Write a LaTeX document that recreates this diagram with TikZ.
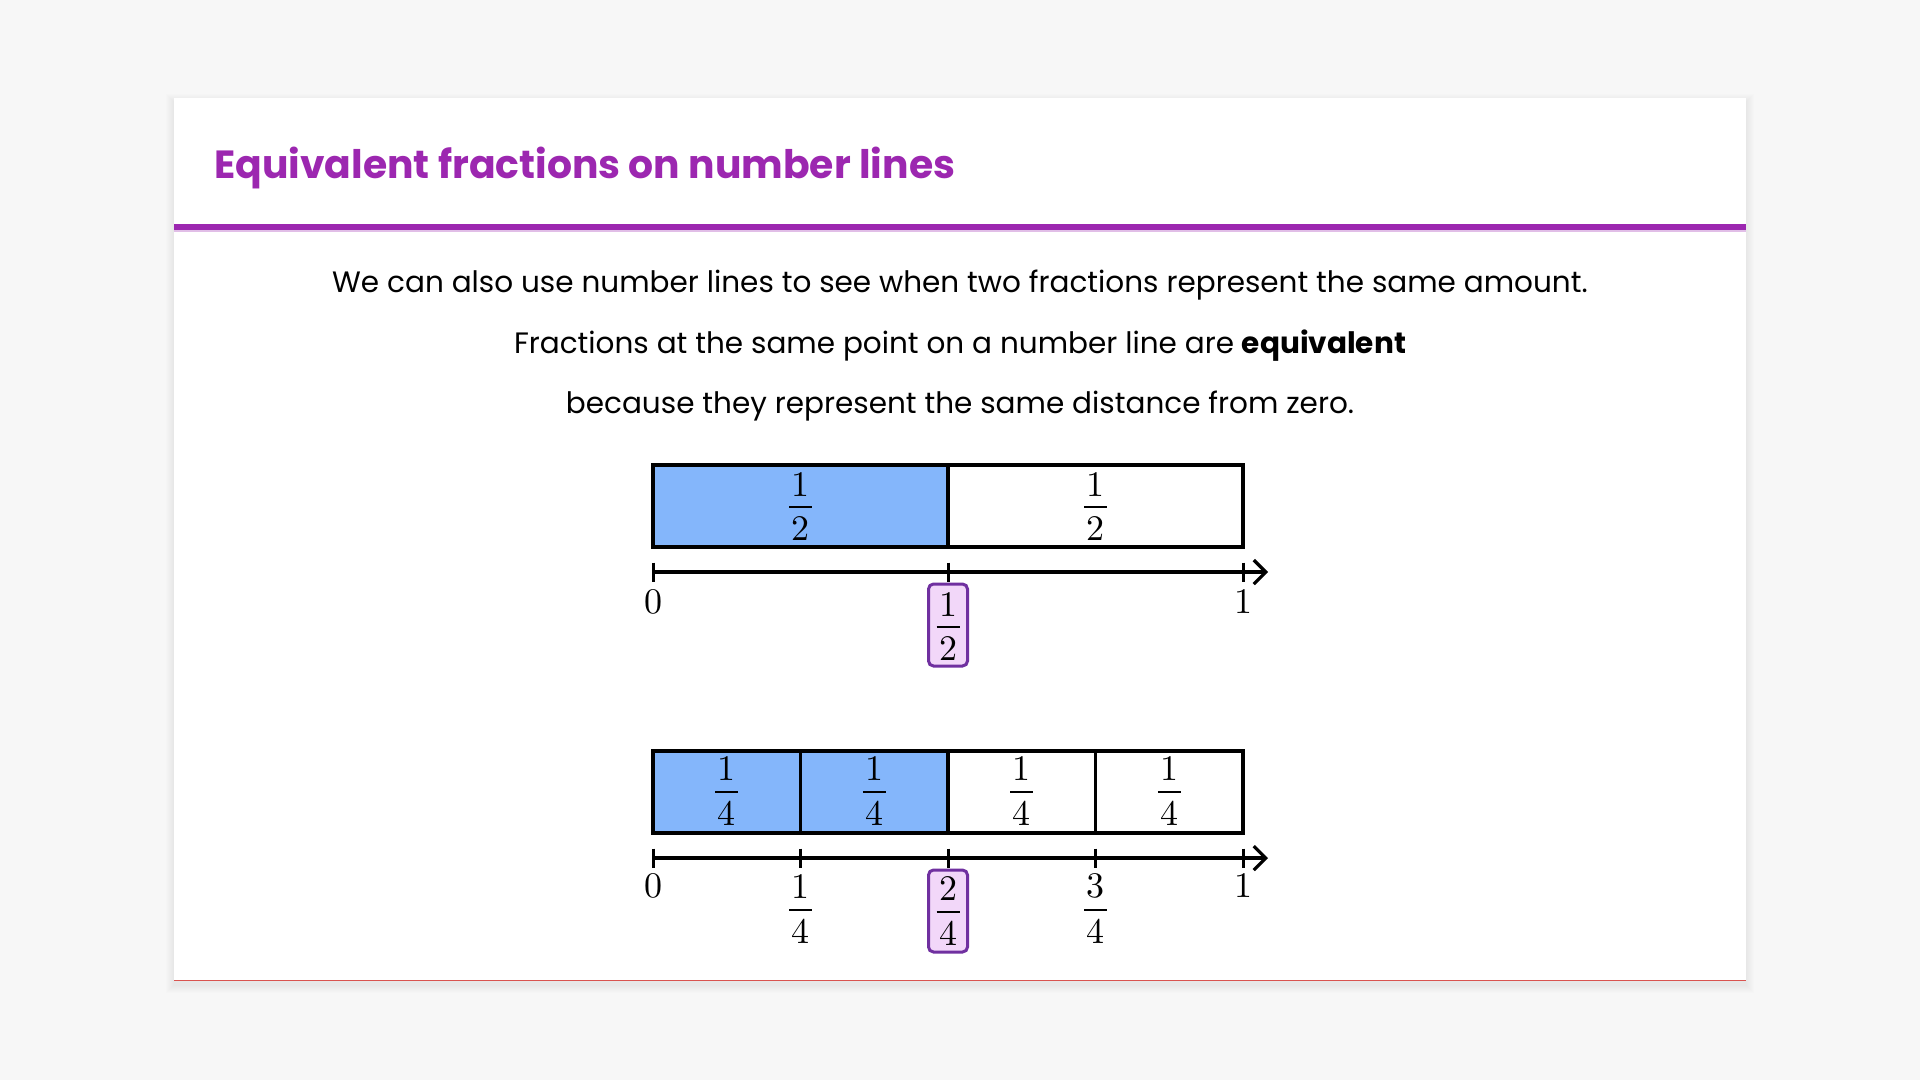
\documentclass[tikz,border=0pt]{standalone}
\usepackage{fontspec}
\usepackage{xcolor}
\newfontfamily\poppins{Poppins}
\newfontfamily\digitfont{lmroman10-regular}[Extension=.otf]
\usetikzlibrary{calc,
	positioning,
	arrows.meta}

\definecolor{pagebg}{HTML}{F7F7F7}
\definecolor{headpurple}{HTML}{9C27B0}
\definecolor{barblue}{HTML}{84B6FB}
\definecolor{markfill}{HTML}{F2D7F9}
\definecolor{markline}{HTML}{7030A0}
\definecolor{edgered}{HTML}{D9534F}

% stacked fraction, baseline = denominator baseline
\newcommand{\numfrac}[2]{\vbox{\offinterlineskip\halign{\hfil##\hfil\cr
	\digitfont#1\cr\noalign{\kern10pt}
	\rule{23pt}{2pt}\cr\noalign{\kern8pt}
	\digitfont#2\cr}}}

\tikzset{
	seg/.style={draw=black, line width=3.4pt},
	axis/.style={line width=3.2pt, -{Straight Barb[length=12pt, width=24pt, line width=3.2pt]}},
	tick/.style={line width=3pt},
	fraclabel/.style={anchor=base, inner sep=0pt, font=\digitfont\fontsize{36}{40}\selectfont},
	bodyline/.style={anchor=base, inner sep=0pt, font=\poppins\fontsize{29.5}{36}\selectfont},
	markbox/.style={draw=markline, fill=markfill, line width=3pt, rounded corners=5pt, inner sep=0pt, minimum width=39pt, minimum height=82pt}
}

\begin{document}
\begin{tikzpicture}[x=1pt, y=-1pt]
	\useasboundingbox (0,0) rectangle (1920,1080);
	\fill[pagebg] (0,0) rectangle (1920,1080);
	% card with soft shadow
	\foreach \s in {1,2,...,8} {
		\fill[black, opacity=0.008] (174-\s,98-\s+4) rectangle (1746+\s,981+\s+4);
	}
	\fill[white] (174,98) rectangle (1746,981);
	\fill[headpurple] (174,224) rectangle (1746,230);
	\fill[headpurple!30] (174,230) rectangle (1746,231.5);
	\fill[edgered] (174,979.5) rectangle (1746,981);

	\node[anchor=base west, inner sep=0pt, text=headpurple, font=\poppins\bfseries\fontsize{39.3}{48}\selectfont] (title) at (214,178) {Equivalent fractions on number lines};
	\node[bodyline] (lineA) at (960,292) {We can also use number lines to see when two fractions represent the same amount.};
	\node[bodyline] (lineB) at (960,353) {Fractions at the same point on a number line are \textbf{equivalent}};
	\node[bodyline] (lineC) at (960,413) {because they represent the same distance from zero.};

	% halves
	\begin{scope}
		\pgfmathsetmacro{\segw}{295}
		\foreach \i in {0,1} {
			\pgfmathsetmacro{\xa}{653+\i*\segw}
			\pgfmathsetmacro{\xb}{653+(\i+1)*\segw}
			\ifnum\i<1
				\fill[barblue] (\xa,465) rectangle (\xb,547);
			\fi
			\draw[seg] (\xa,465) rectangle (\xb,547);
			\node[fraclabel] (h\i) at ({(\xa+\xb)/2},540) {\numfrac{1}{2}};
		}
		\coordinate (ha) at (653,572);
		\coordinate (hz) at (1268,572);
		\draw[axis] (ha) -- (hz);
		\foreach \i in {0,1,2} {
			\coordinate (ht\i) at (653+\i*295,572);
			\draw[tick] ($(ht\i)+(0,-9.5)$) -- ($(ht\i)+(0,9.5)$);
		}
		\node[fraclabel] (hzero) at (653,613) {0};
		\node[fraclabel] (hone) at (1243,613) {1};
		\node[markbox] (hmark) at (948,625) {};
		\node[fraclabel] (hmarkfrac) at (948,660) {\numfrac{1}{2}};
	\end{scope}

	% quarters
	\begin{scope}[shift={(0,286)}]
		\pgfmathsetmacro{\segw}{147.5}
		\foreach \i in {0,1,2,3} {
			\pgfmathsetmacro{\xa}{653+\i*\segw}
			\pgfmathsetmacro{\xb}{653+(\i+1)*\segw}
			\ifnum\i<2
				\fill[barblue] (\xa,465) rectangle (\xb,547);
			\fi
			\draw[seg] (\xa,465) rectangle (\xb,547);
			\node[fraclabel] (q\i) at ({(\xa+\xb)/2},539) {\numfrac{1}{4}};
		}
		\coordinate (qa) at (653,572);
		\coordinate (qz) at (1268,572);
		\draw[axis] (qa) -- (qz);
		\foreach \i in {0,1,2,3,4} {
			\coordinate (qt\i) at (653+\i*147.5,572);
			\draw[tick] ($(qt\i)+(0,-9.5)$) -- ($(qt\i)+(0,9.5)$);
		}
		\node[fraclabel] (qzero) at (653,611) {0};
		\node[fraclabel] (qone) at (1243,611) {1};
		\node[fraclabel] (qonefourth) at (800.5,657) {\numfrac{1}{4}};
		\node[markbox] (qmark) at (948,625) {};
		\node[fraclabel] (qmarkfrac) at (948,659) {\numfrac{2}{4}};
		\node[fraclabel] (qthreefourths) at (1095.5,657) {\numfrac{3}{4}};
	\end{scope}
\end{tikzpicture}
\end{document}
